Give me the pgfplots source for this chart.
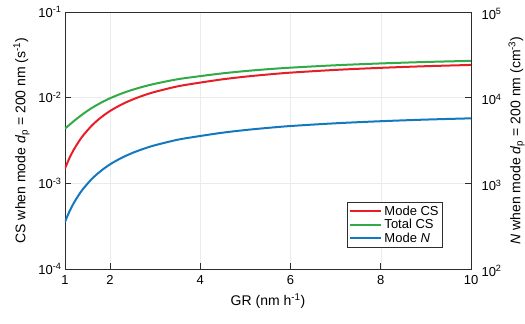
\documentclass[border=0pt]{standalone}
\usepackage{pgfplots}
\pgfplotsset{compat=1.18}
\usepackage{fontspec}
\setmainfont{Liberation Sans}
\definecolor{cred}{RGB}{230,30,40}
\definecolor{cgreen}{RGB}{50,170,70}
\definecolor{cblue}{RGB}{20,120,190}
\definecolor{axgray}{RGB}{45,45,45}
\begin{document}
\begin{tikzpicture}
\pgfplotsset{every axis/.append style={width=406pt,height=257pt,scale only axis,
  xmin=1,xmax=10,ymode=log,log basis y=10,tick align=inside,major tick length=6pt,
  minor tick num=0,
  axis line style={axgray,line width=0.9pt},tick style={axgray,line width=0.9pt},
  tick label style={font=\fontsize{13}{15}\selectfont},
  label style={font=\fontsize{14}{16}\selectfont}}}
\begin{axis}[ymin=1e-4,ymax=1e-1,
  xtick={1,2,4,6,8,10},xticklabels={1,2,4,6,8,10},
  xticklabel style={yshift=-3pt},
  ytick={1e-4,1e-3,1e-2,1e-1},
  yticklabels={10\textsuperscript{-4},10\textsuperscript{-3},10\textsuperscript{-2},10\textsuperscript{-1}},
  xtick pos=left,ytick pos=left,
  grid=major,major grid style={black!8,line width=0.5pt},
  xlabel={GR (nm h\textsuperscript{-1})},
  xlabel style={yshift=-2pt},
  ylabel style={yshift=2pt},
  ylabel={CS when mode \textit{d}\textsubscript{p} = 200 nm (s\textsuperscript{-1})}]
\addplot[cred,line width=2pt,smooth,tension=0.5] coordinates {
(1,0.00149)(1.1,0.00198)(1.2,0.00250)(1.3,0.00304)(1.4,0.00361)(1.6,0.00476)(1.8,0.00589)
(2,0.00700)(2.25,0.00831)(2.5,0.00953)(2.75,0.01066)(3,0.01171)(3.5,0.01357)(4,0.01500)(4.5,0.01640)(5,0.01760)(5.5,0.01865)(6,0.0196)
(7,0.0211)(8,0.0223)(9,0.0233)(10,0.0241)};
\addplot[cgreen,line width=2pt,smooth,tension=0.5] coordinates {
(1,0.00436)(1.1,0.00483)(1.2,0.00535)(1.3,0.00589)(1.4,0.00646)(1.6,0.00761)(1.8,0.00874)
(2,0.00985)(2.25,0.01116)(2.5,0.01238)(2.75,0.01351)(3,0.01456)(3.5,0.01642)(4,0.01785)(4.5,0.01925)(5,0.02045)(5.5,0.02150)(6,0.0224)
(7,0.0239)(8,0.0251)(9,0.0261)(10,0.0269)};
\end{axis}
\begin{axis}[ymin=1e2,ymax=1e5,
  axis x line=none,axis y line*=right,
  ytick={1e2,1e3,1e4,1e5},
  yticklabel style={xshift=7pt,yshift=-2pt},
  yticklabels={10\textsuperscript{2},10\textsuperscript{3},10\textsuperscript{4},10\textsuperscript{5}},
  ylabel={\textit{N} when mode \textit{d}\textsubscript{p} = 200 nm (cm\textsuperscript{-3})},
  legend cell align=left,
  legend style={at={(rel axis cs:0.931,0.082)},anchor=south east,draw=axgray,line width=0.6pt,
    fill=white,font=\fontsize{13}{15}\selectfont,row sep=-1.5pt,inner sep=2pt},
  legend image code/.code={\draw[#1] (0pt,0pt) -- (31pt,0pt);}]
\addlegendimage{draw=cred,line width=2pt}\addlegendentry{Mode CS}
\addlegendimage{draw=cgreen,line width=2pt}\addlegendentry{Total CS}
\addplot[draw=cblue,line width=2pt,smooth,tension=0.5] coordinates {
(1,355)(1.1,471)(1.2,595)(1.3,724)(1.4,860)(1.6,1133)(1.8,1402)
(2,1667)(2.25,1979)(2.5,2269)(2.75,2538)(3,2788)(3.5,3231)(4,3571)(4.5,3905)(5,4190)(5.5,4440)(6,4667)
(7,5024)(8,5310)(9,5548)(10,5738)};
\addlegendentry{Mode \textit{N}}
\end{axis}
\pgfresetboundingbox
\path[use as bounding box] (-65pt,-55pt) rectangle (460pt,269pt);
\end{tikzpicture}
\end{document}
